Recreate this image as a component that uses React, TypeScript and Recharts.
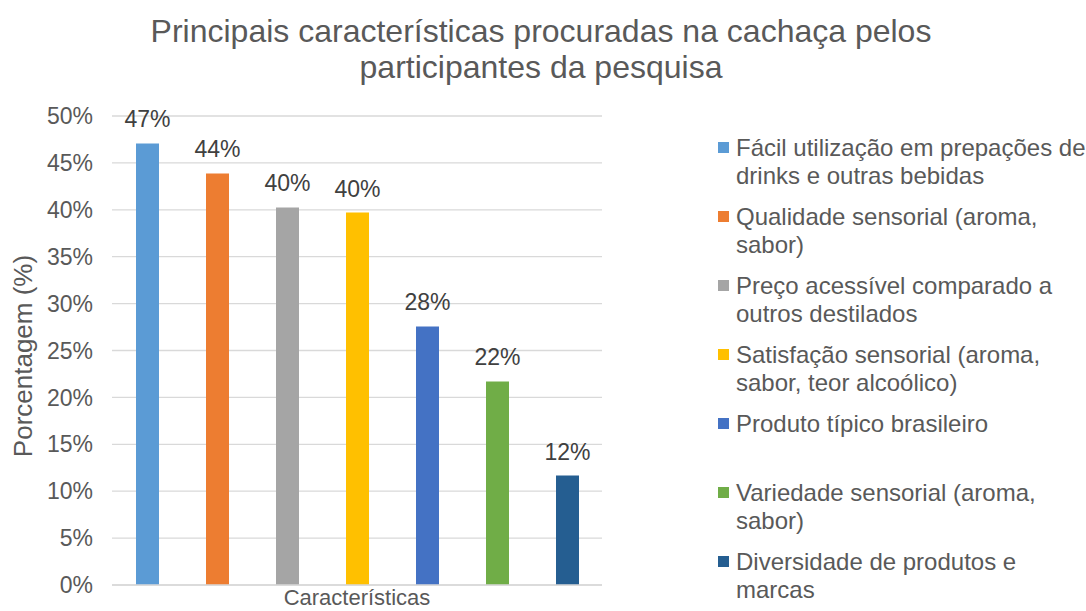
import React from 'react';
import { BarChart, Bar, XAxis, YAxis, CartesianGrid, LabelList } from 'recharts';

const category = 'Características';
const seriesNames = [
  'Fácil utilização em prepações de\ndrinks e outras bebidas',
  'Qualidade sensorial (aroma,\nsabor)',
  'Preço acessível comparado a\noutros destilados',
  'Satisfação sensorial (aroma,\nsabor, teor alcoólico)',
  'Produto típico brasileiro',
  'Variedade sensorial (aroma,\nsabor)',
  'Diversidade de produtos e\nmarcas',
];
const seriesValues = [47.07, 43.87, 40.25, 39.7, 27.56, 21.7, 11.67];
const seriesColors = ['#5B9BD5', '#ED7D31', '#A5A5A5', '#FFC000', '#4472C4', '#70AD47', '#255E91'];
const yTicks = [0, 5, 10, 15, 20, 25, 30, 35, 40, 45, 50];
const title = 'Principais características procuradas na cachaça pelos\nparticipantes da pesquisa';
const yLabel = 'Porcentagem (%)';

const FONT = '"Liberation Sans", Arial, sans-serif';

const row: Record<string, string | number> = { category };
seriesValues.forEach((v, i) => {
  row['s' + i] = v;
});
const data = [row];

export default function App() {
  return (
    <div style={{ position: 'absolute', left: 0, top: 0, width: 1086, height: 611, background: '#fff', fontFamily: FONT, overflow: 'hidden' }}>
      <BarChart
        width={1086}
        height={611}
        data={data}
        margin={{ top: 116, right: 484, bottom: 0, left: 0 }}
        barGap={47}
        barSize={23}
      >
        <CartesianGrid vertical={false} stroke="#D9D9D9" strokeWidth={1.3} />
        <XAxis
          dataKey="category"
          height={26}
          tickLine={false}
          tickSize={0}
          tickMargin={4}
          axisLine={{ stroke: '#D9D9D9', strokeWidth: 1.3 }}
          tick={{ fill: '#595959', fontSize: 22, fontFamily: FONT }}
        />
        <YAxis
          width={112}
          domain={[0, 50]}
          ticks={yTicks}
          interval={0}
          tickFormatter={(v: number) => v + '%'}
          axisLine={false}
          tickLine={false}
          tickSize={0}
          tickMargin={19}
          tick={{ fill: '#595959', fontSize: 23, fontFamily: FONT }}
          label={{
            content: () => (
              <text
                x={32}
                y={356}
                transform="rotate(-90 32 356)"
                textAnchor="middle"
                fill="#595959"
                fontSize={26}
                fontFamily={FONT}
              >
                {yLabel}
              </text>
            ),
          }}
        />
        {seriesValues.map((_, i) => (
          <Bar key={i} dataKey={'s' + i} fill={seriesColors[i]} isAnimationActive={false}>
            <LabelList
              dataKey={'s' + i}
              position="top"
              offset={16}
              formatter={(v: number) => Math.round(v) + '%'}
              fill="#404040"
              fontSize={23}
              fontFamily={FONT}
            />
          </Bar>
        ))}
      </BarChart>
      <div
        style={{
          position: 'absolute',
          left: 0,
          top: 13,
          width: 1082,
          textAlign: 'center',
          fontSize: 32,
          lineHeight: '36px',
          color: '#595959',
          whiteSpace: 'pre-line',
        }}
      >
        {title}
      </div>
      <div style={{ position: 'absolute', left: 718, top: 134 }}>
        {seriesNames.map((name, i) => (
          <div key={i} style={{ position: 'relative', height: 69 }}>
            <div
              style={{
                position: 'absolute',
                left: 0,
                top: 8,
                width: 11,
                height: 11,
                background: seriesColors[i],
              }}
            />
            <div
              style={{
                position: 'absolute',
                left: 18,
                top: 0,
                fontSize: 24,
                lineHeight: '28px',
                color: '#595959',
                whiteSpace: 'pre',
              }}
            >
              {name}
            </div>
          </div>
        ))}
      </div>
    </div>
  );
}
